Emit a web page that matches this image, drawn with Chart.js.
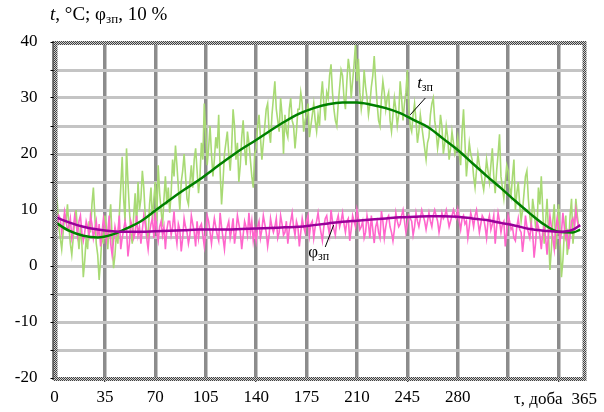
<!DOCTYPE html>
<html>
<head>
<meta charset="utf-8">
<script src="https://cdn.jsdelivr.net/npm/chart.js@4.4.0/dist/chart.umd.min.js"></script>
<style>
html, body { margin: 0; padding: 0; background: #fff; }
#wrap { width: 604px; height: 412px; }
</style>
</head>
<body>
<div id="wrap"><canvas id="chart" width="604" height="412"></canvas></div>
<script>
// x-axis ticks (days) and y-axis range
var dayTicks = [0, 35, 70, 105, 140, 175, 210, 245, 280, 315, 350];
var dayMax = 368;
var yMin = -20, yMax = 40;

// daily values, day 0 ... 364
var tDaily = [
    9, 13, 11, 7, 5, 3, 6, 9, 8, 11,
    7, 4, 2, 5, 8, 10, 6, 3, 7, 4,
    -2, 1, 5, 3, 8, 6, 11, 14, 9, 4,
    2, -2.5, 1, 6, 4, 9, 7, 3, 8, 11,
    5, -0.4, 2, 6, 4, 9, 14, 19.5, 12, 8,
    21, 15, 10, 6, 4, 9, 13, 7, 15, 10,
    12, 17, 14, 9, 6, 5, 11, 14, 8, 12,
    15, 8, 18, 13, 10, 7, 12, 16, 11, 14,
    9.5, 13, 19, 16, 21.5, 18, 14, 10, 15, 17,
    20, 16, 12, 11, 15, 18, 14, 19, 21, 17,
    13, 16, 22, 19, 29, 24, 18, 21, 25, 20,
    16, 19, 23, 21, 27, 17, 11, 15, 20, 22,
    24, 20, 17, 21, 28, 25, 19, 22, 15, 18,
    23, 26, 21, 18, 24, 22, 19, 16, 14, 20,
    21, 25, 27, 23, 19, 22, 25, 28, 29, 24,
    22, 27, 30, 33, 28, 26, 24, 30, 27, 20,
    27, 24, 23, 28, 30, 26, 25, 21, 24, 28,
    28, 31, 29, 24, 26, 27, 29, 23, 25, 27,
    29, 26, 24, 27, 25, 30, 33, 29, 26, 31,
    30, 34, 36, 31, 28, 26, 25, 29, 32, 35,
    34, 30, 28, 33, 37, 35, 30, 33, 36, 39.7,
    33, 37, 31, 28, 30, 35, 32, 30, 27, 29,
    32, 34, 37.5, 33, 29, 26, 25, 30, 33, 31,
    28, 30, 31, 26, 24, 27, 30, 28, 25, 27,
    33, 30, 26, 29, 31, 35, 28, 25, 24, 27,
    29, 26, 22, 24, 27, 25, 23, 21, 19, 22,
    23, 27, 29, 30, 26, 24, 21, 23, 27, 25,
    20, 22, 25, 23, 19, 21, 24, 22, 20, 21,
    23, 20, 18, 24, 28, 22, 16, 19, 22, 20,
    19, 16, 14, 17, 20, 18, 17, 15, 13.6, 16,
    19, 17, 15, 18, 21, 16, 13, 17, 20, 23.5,
    16, 14, 12, 15, 18, 17, 14, 12.5, 16, 19,
    10, 13, 15, 11, 8, 10, 13, 16, 17, 12,
    9, 7, 12, 10, 7, 6.5, 14, 11, 16, 10,
    4, 8, 12, 6, -0.7, 3, 8, 11, 3, 6,
    11, 5, -2, 1, 6, 9, 2, 4, 9, 12,
    4, 7, 12, 9, 7
];
var phiDaily = [
    9.5, 8, 7, 9, 8.5, 6, 7.5, 9.7, 8, 6.5,
    7, 8.5, 5, 6.5, 9, 7.5, 5.5, 8, 9, 6,
    4.5, 6, 8, 7, 5.5, 9, 7.5, 5, 6.5, 8,
    5, 7.5, 3.5, 6, 8.5, 7, 4.5, 6, 9, 4,
    2, 4.5, 7, 5.5, 6, 9, 3, 5, 6.5, 8,
    6.5, 1.7, 4, 8, 7, 5, 6, 9, 5.5, 7,
    4, 6.5, 9, 7.5, 5, 3, 6, 7.5, 8.5, 5,
    9.5, 6, 4.5, 7, 8, 5.5, 7, 3, 6.5, 8,
    8, 5.5, 7, 9.7, 6, 4, 7.5, 6.5, 2.6, 5,
    8.5, 7, 6, 4, 5.5, 9, 7.5, 6, 3.5, 8,
    5, 7, 7.5, 5.5, 3.5, 6, 9, 8, 6, 4,
    6.5, 8.5, 7, 5.5, 4.5, 9.5, 7, 5, 3, 6,
    7, 8, 5, 6.5, 8.5, 4, 6, 9, 7.5, 6,
    3, 5.5, 8, 7, 5.5, 9.5, 6, 8, 4.5, 6.5,
    4.5, 7, 8, 5, 6.5, 9, 7.5, 6, 3.5, 5.5,
    8.5, 7, 6, 7, 8.5, 5, 6, 9, 7.5, 5.5,
    6, 8, 4, 6.5, 8, 9.5, 7, 5.5, 8, 7,
    3.5, 6, 8.5, 7, 6, 8, 9, 5.5, 7.5, 8,
    5, 7, 8, 9.5, 7.5, 6, 4.5, 7, 8.5, 9,
    7, 5.5, 10, 8, 6.5, 5.5, 8, 9, 7, 8,
    9.5, 7.5, 6, 8, 8.5, 4.5, 6.5, 9, 8, 7,
    10, 8.5, 6.5, 7, 8, 5, 6, 9, 7.5, 5,
    9, 6.5, 4.1, 7, 8, 6, 5, 9.8, 8, 5,
    7, 8.5, 9, 7, 6, 4.5, 6.5, 9.5, 8, 7,
    7.5, 9, 10, 8, 6, 7.5, 9, 8.5, 8, 5.5,
    7, 9.5, 8, 7, 8.5, 10, 9, 8, 6.5, 8,
    9.5, 8, 7, 9, 10, 9, 8, 6, 7.5, 9.5,
    8.5, 9, 10, 8.5, 7, 8, 9, 10, 9, 8.5,
    10, 8, 6.5, 8.5, 9, 7.5, 8, 5, 7, 9.5,
    8.5, 7, 9, 10, 8, 6, 7.5, 9, 8.5, 7,
    5, 8, 9, 6.5, 7.5, 9, 4, 7, 9.5, 8,
    6, 7.5, 8, 3.5, 6, 9, 8, 6.5, 7, 5,
    4.5, 7, 8.5, 6.5, 6, 2.5, 5, 9, 7, 6,
    5, 7.5, 6, 1.5, 4, 8, 7, 5.5, 3, 6,
    7, 5, 2, 6, 9, 7, 5, 3, 6.5, 8.5,
    7, 4.5, 6, 9.5, 7, 5, 6, 3, 5.5, 8,
    8.5, 7, 10, 8, 7
];

// smoothed curves t_зп and φ_зп
var smoothDays = [0, 10, 20, 30, 40, 50, 60, 70, 80, 90, 100, 110, 120, 130, 140, 150, 160, 170, 180,
    190, 200, 210, 220, 230, 240, 250, 260, 270, 280, 290, 300, 310, 320, 330, 340, 350, 360, 365];
var tSmooth = [7.9, 6.3, 5.4, 5.1, 5.6, 6.7, 8.0, 9.9, 11.8, 13.6, 15.3, 17.2, 19.1, 20.9, 22.5, 24.2, 25.8, 27.2, 28.2,
    28.9, 29.2, 29.2, 28.8, 28.2, 27.3, 26.0, 24.7, 22.7, 20.7, 18.4, 16.1, 13.9, 11.6, 9.4, 7.4, 6.1, 6.0, 6.5];
var phiSmooth = [8.8, 7.8, 7.0, 6.5, 6.2, 6.1, 6.1, 6.2, 6.3, 6.4, 6.5, 6.5, 6.5, 6.6, 6.7, 6.8, 6.9, 7.0, 7.3,
    7.6, 7.9, 8.1, 8.3, 8.5, 8.7, 8.8, 8.9, 8.9, 8.8, 8.5, 8.2, 7.7, 7.2, 6.6, 6.3, 6.1, 6.5, 7.3];

function toPoints(xs, ys) {
    return ys.map(function (v, i) { return { x: xs[i], y: v }; });
}
var dailyDays = tDaily.map(function (_, i) { return i; });

var serif = '"Liberation Serif", "Times New Roman", serif';

// hatched frame like the original
function framePattern(ctx) {
    var c = document.createElement('canvas');
    c.width = 2; c.height = 2;
    var p = c.getContext('2d');
    p.fillStyle = '#d0d0d0'; p.fillRect(0, 0, 2, 2);
    p.fillStyle = '#404040'; p.fillRect(0, 0, 1, 1); p.fillRect(1, 1, 1, 1);
    return ctx.createPattern(c, 'repeat');
}

// text with subscript: parts = [[text, 'i'|'n'|'s'], ...]
function drawRich(ctx, x, y, parts, size) {
    parts.forEach(function (p) {
        if (p[1] === 's') {
            ctx.font = Math.round(size * 0.7) + 'px ' + serif;
            ctx.fillText(p[0], x, y + 3);
        } else {
            ctx.font = (p[1] === 'i' ? 'italic ' : '') + size + 'px ' + serif;
            ctx.fillText(p[0], x, y);
        }
        x += ctx.measureText(p[0]).width;
    });
}

var extras = {
    id: 'extras',
    afterDraw: function (chart) {
        var ctx = chart.ctx, a = chart.chartArea;
        var xs = chart.scales.x, ys = chart.scales.y;
        ctx.save();
        // frame
        ctx.strokeStyle = framePattern(ctx);
        ctx.lineWidth = 4;
        ctx.strokeRect(a.left + 1, a.top + 1, a.right - a.left - 1, a.bottom - a.top);
        ctx.strokeStyle = '#000';
        ctx.lineWidth = 1;
        ctx.beginPath();
        ctx.moveTo(a.left - 1.5, a.top - 1);
        ctx.lineTo(a.left - 1.5, a.bottom + 2);
        ctx.stroke();

        ctx.fillStyle = '#000';
        ctx.textBaseline = 'alphabetic';
        ctx.textAlign = 'left';
        // axis title
        drawRich(ctx, 50, 20, [['t', 'i'], [', \u00b0C; \u03c6', 'n'], ['\u0437\u043f', 's'], [', 10 %', 'n']], 19);

        // x-axis name and end label
        ctx.font = '17px ' + serif;
        ctx.textAlign = 'right';
        ctx.fillText('\u03c4, \u0434\u043e\u0431\u0430', xs.getPixelForValue(350) + 4, 404);
        ctx.textAlign = 'left';
        ctx.fillText('365', xs.getPixelForValue(350) + 13, 404);

        // curve labels with leader lines
        ctx.strokeStyle = '#000';
        ctx.lineWidth = 1;
        ctx.beginPath();
        ctx.moveTo(xs.getPixelForValue(257.5), ys.getPixelForValue(30));
        ctx.lineTo(xs.getPixelForValue(247), ys.getPixelForValue(27));
        ctx.moveTo(xs.getPixelForValue(188), ys.getPixelForValue(3.4));
        ctx.lineTo(xs.getPixelForValue(193.8), ys.getPixelForValue(7.3));
        ctx.stroke();
        drawRich(ctx, xs.getPixelForValue(251.8), ys.getPixelForValue(31.7), [['t', 'i'], ['\u0437\u043f', 's']], 17);
        drawRich(ctx, xs.getPixelForValue(176.2), ys.getPixelForValue(1.6), [['\u03c6', 'n'], ['\u0437\u043f', 's']], 17);
        ctx.restore();
    }
};

var ctx = document.getElementById('chart').getContext('2d');
var myChart = new Chart(ctx, {
    type: 'line',
    data: {
        datasets: [{
            label: '\u03c6\u0437\u043f',
            data: toPoints(smoothDays, phiSmooth),
            borderColor: '#990099',
            borderWidth: 2.5,
            cubicInterpolationMode: 'monotone',
            pointRadius: 0
        }, {
            label: 't\u0437\u043f',
            data: toPoints(smoothDays, tSmooth),
            borderColor: '#008000',
            borderWidth: 2.5,
            cubicInterpolationMode: 'monotone',
            pointRadius: 0
        }, {
            label: '\u03c6',
            data: toPoints(dailyDays, phiDaily),
            borderColor: '#ff66cc',
            borderWidth: 1.6,
            tension: 0,
            pointRadius: 0
        }, {
            label: 't',
            data: toPoints(dailyDays, tDaily),
            borderColor: '#a8da74',
            borderWidth: 1.6,
            tension: 0,
            pointRadius: 0
        }]
    },
    options: {
        responsive: false,
        animation: false,
        layout: { padding: { left: 0, top: 42, right: 19.5, bottom: 0 } },
        plugins: { legend: { display: false }, tooltip: { enabled: false } },
        scales: {
            x: {
                type: 'linear',
                min: 0,
                max: dayMax,
                afterBuildTicks: function (s) {
                    s.ticks = dayTicks.map(function (v) { return { value: v }; });
                },
                afterFit: function (s) { s.height = 34; },
                border: { display: false },
                grid: {
                    color: function (c) { return c.tick && c.tick.value === 0 ? 'rgba(0,0,0,0)' : '#8c8c8c'; },
                    lineWidth: 3.5,
                    tickLength: 4,
                    tickWidth: 1,
                    tickColor: function (c) {
                        var v = c.tick && c.tick.value;
                        return (v === 35 || v === 140 || v === 245 || v === 350) ? '#000' : 'rgba(0,0,0,0)';
                    }
                },
                ticks: {
                    autoSkip: false,
                    maxRotation: 0,
                    padding: 5,
                    color: '#000',
                    font: { family: serif, size: 17 },
                    callback: function (v) { return v <= 280 ? v : ''; }
                }
            },
            y: {
                min: yMin,
                max: yMax,
                afterFit: function (s) { s.width = 54.5; },
                border: { display: false },
                grid: {
                    color: function (c) {
                        var v = c.tick && c.tick.value;
                        return (v === yMin || v === yMax) ? 'rgba(0,0,0,0)' : '#c4c4c4';
                    },
                    lineWidth: 3,
                    tickLength: 4,
                    tickWidth: 1,
                    tickColor: '#000'
                },
                ticks: {
                    stepSize: 5,
                    padding: 13,
                    color: '#000',
                    font: { family: serif, size: 17 },
                    callback: function (v) { return v % 10 === 0 ? v : ''; }
                }
            }
        }
    },
    plugins: [extras]
});
</script>
</body>
</html>
